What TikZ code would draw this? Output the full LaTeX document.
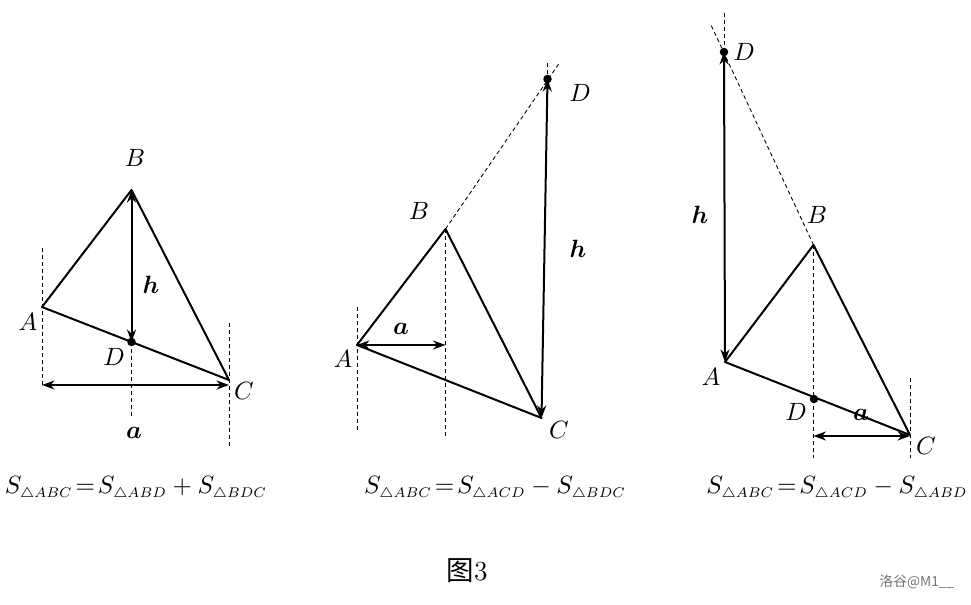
\documentclass[tikz,border=0pt]{standalone}
\usepackage{amsmath,amssymb}
\usepackage{graphicx}
\usepackage{fontspec}
\newfontfamily\cjkfont{Noto Sans CJK SC}
\usetikzlibrary{arrows.meta}

\newcommand{\tri}[1]{_{\scalebox{0.8}{$\scriptstyle\triangle #1$}}}

\tikzset{
  side/.style={line width=0.8pt, line join=round},
  guide/.style={line width=0.35pt, dash pattern=on 1.6pt off 1.2pt},
  measure/.style={line width=0.8pt, {Stealth[length=5pt,width=3.6pt]}-{Stealth[length=5pt,width=3.6pt]}},
  dot/.style={circle, fill, inner sep=0pt, minimum size=3.4pt},
}

\begin{document}
\begin{tikzpicture}[x=0.4pt,y=-0.4pt]
    \useasboundingbox (0,0) rectangle (971,605);

    % figure 1: D inside AC
    \coordinate (A1) at (42,307);
    \coordinate (B1) at (131.5,190);
    \coordinate (C1) at (229,380);
    \coordinate (D1) at (131.5,342);
    \draw[guide] (42,248) -- (42,388);
    \draw[guide] (229,323) -- (229,447);
    \draw[guide] (D1) -- (131.5,417);
    \draw[side] (A1) -- (B1) -- (C1) -- cycle;
    \draw[measure] (B1) -- (D1);
    \coordinate (a1l) at (42,385);
    \coordinate (a1r) at (229,385);
    \draw[measure] (a1l) -- (a1r);
    \node[dot] (d1) at (D1) {};
    \node (lA1) at (28,322) {$A$};
    \node (lB1) at (135,158) {$B$};
    \node (lC1) at (244,391) {$C$};
    \node (lD1) at (114,357) {$D$};
    \node (lh1) at (151,285) {$\boldsymbol{h}$};
    \node (la1) at (134,433) {$\boldsymbol{a}$};
    \node (f1) at (136,488) {$S\tri{ABC}\!=\!S\tri{ABD}+S\tri{BDC}$};

    % figure 2: D above C on AB extended
    \coordinate (A2) at (357,345);
    \coordinate (B2) at (445.5,229);
    \coordinate (C2) at (541.5,418);
    \coordinate (D2) at (547.5,79);
    \coordinate (E2) at (560,62);
    \draw[guide] (357,307) -- (357,432);
    \draw[guide] (B2) -- (445.5,437);
    \draw[guide] (547.5,63) -- (D2);
    \draw[guide] (B2) -- (E2);
    \draw[side] (A2) -- (B2) -- (C2) -- cycle;
    \draw[measure] (D2) -- (C2);
    \coordinate (a2r) at (445.5,345);
    \draw[measure] (A2) -- (a2r);
    \node[dot] (d2) at (D2) {};
    \node (lA2) at (343,359) {$A$};
    \node (lB2) at (419,211) {$B$};
    \node (lC2) at (559,430) {$C$};
    \node (lD2) at (580,93) {$D$};
    \node (lh2) at (578,249) {$\boldsymbol{h}$};
    \node (la2) at (401,329) {$\boldsymbol{a}$};
    \node (f2) at (495,488) {$S\tri{ABC}\!=\!S\tri{ACD}-S\tri{BDC}$};

    % figure 3: D above A on CB extended
    \coordinate (A3) at (725,362);
    \coordinate (B3) at (813.5,245);
    \coordinate (C3) at (910,435);
    \coordinate (D3) at (814,399);
    \coordinate (T3) at (724,52);
    \coordinate (E3) at (710.5,24);
    \draw[guide] (724,13) -- (T3);
    \draw[guide] (B3) -- (E3);
    \draw[guide] (B3) -- (813.5,458);
    \draw[guide] (910,378) -- (910,458);
    \draw[side] (A3) -- (B3) -- (C3) -- cycle;
    \draw[measure] (T3) -- (A3);
    \coordinate (a3l) at (813.5,436);
    \coordinate (a3r) at (910,436);
    \draw[measure] (a3l) -- (a3r);
    \node[dot] (d3) at (D3) {};
    \node[dot] (t3) at (T3) {};
    \node (lA3) at (711,377) {$A$};
    \node (lB3) at (817,215) {$B$};
    \node (lC3) at (926,446) {$C$};
    \node (lD3) at (796,412) {$D$};
    \node (lT3) at (744,52) {$D$};
    \node (lh3) at (700,215) {$\boldsymbol{h}$};
    \node (la3) at (861,415) {$\boldsymbol{a}$};
    \node (f3) at (837,488) {$S\tri{ABC}\!=\!S\tri{ACD}-S\tri{ABD}$};

    % caption and mark
    \node (cap) at (467,571) {\fontsize{11}{13}\selectfont{\cjkfont 图}3};
    \node[text=black!55, font=\cjkfont\fontsize{5.5}{7}\selectfont] (mark) at (917,582) {洛谷@M1\_\_};
\end{tikzpicture}
\end{document}
